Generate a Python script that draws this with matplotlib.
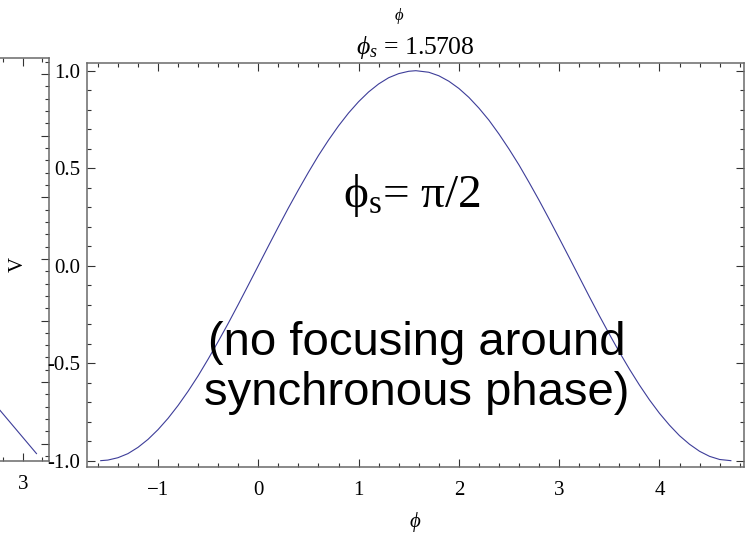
import numpy as np
import matplotlib
matplotlib.use("Agg")
import matplotlib.pyplot as plt
from matplotlib.ticker import MultipleLocator, FuncFormatter

plt.rcParams['font.family'] = ['Liberation Serif', 'DejaVu Serif']
plt.rcParams['mathtext.fontset'] = 'custom'
plt.rcParams['mathtext.rm'] = 'Liberation Serif'
plt.rcParams['mathtext.it'] = 'Liberation Serif:italic'

# V = sin(phi)
phi = [-1.571, -1.5, -1.4, -1.3, -1.2, -1.1, -1.0, -0.9, -0.8, -0.7, -0.6, -0.5,
       -0.4, -0.3, -0.2, -0.1, 0.0, 0.1, 0.2, 0.3, 0.4, 0.5, 0.6, 0.7, 0.8, 0.9,
       1.0, 1.1, 1.2, 1.3, 1.4, 1.5, 1.571, 1.7, 1.8, 1.9, 2.0, 2.1, 2.2, 2.3,
       2.4, 2.5, 2.6, 2.7, 2.8, 2.9, 3.0, 3.1, 3.2, 3.3, 3.4, 3.5, 3.6, 3.7,
       3.8, 3.9, 4.0, 4.1, 4.2, 4.3, 4.4, 4.5, 4.6, 4.712]
V = [-1.0, -0.997, -0.985, -0.964, -0.932, -0.891, -0.841, -0.783, -0.717,
     -0.644, -0.565, -0.479, -0.389, -0.296, -0.199, -0.100, 0.0, 0.100, 0.199,
     0.296, 0.389, 0.479, 0.565, 0.644, 0.717, 0.783, 0.841, 0.891, 0.932,
     0.964, 0.985, 0.997, 1.0, 0.992, 0.974, 0.946, 0.909, 0.863, 0.808, 0.746,
     0.675, 0.598, 0.516, 0.427, 0.335, 0.239, 0.141, 0.042, -0.058, -0.158,
     -0.256, -0.351, -0.443, -0.530, -0.612, -0.688, -0.757, -0.818, -0.872,
     -0.916, -0.952, -0.978, -0.994, -1.0]

# visible piece of the neighbouring panel on the left
phi_left = [2.76, 2.95, 3.14]
V_left = [-1.22, -1.40, -1.58]

title_txt = r'$\phi_s$ = 1.5708'
note1 = r'$\mathrm{\phi}_\mathrm{s}$= π/2'
note2 = '(no focusing around\nsynchronous phase)'

W, H = 752, 533
line_col = '#3d3d99'
frame_col = '#6a6a6a'

fig = plt.figure(figsize=(W / 100, H / 100), dpi=100)


def style(ax):
    for s in ax.spines.values():
        s.set_color(frame_col)
        s.set_linewidth(1.1)
    ax.tick_params(which='both', direction='in', top=True, right=True,
                   color='#333333', width=0.8, labelsize=15)
    ax.tick_params(which='major', length=5.8)
    ax.tick_params(which='minor', length=3.2)


# left (cut off) panel
axl = fig.add_axes([-594.7 / W, (H - 461) / H, 644 / W, 403 / H])
axl.plot(phi_left, V_left, color=line_col, lw=0.8)
axl.set_xlim(-3.27, 3.27)
axl.set_ylim(-1.64, 1.63)
axl.xaxis.set_major_locator(MultipleLocator(1))
axl.xaxis.set_minor_locator(MultipleLocator(0.2))
axl.yaxis.set_major_locator(MultipleLocator(0.5))
axl.yaxis.set_minor_locator(MultipleLocator(0.1))
axl.xaxis.set_major_formatter(FuncFormatter(lambda v, p: '3' if abs(v - 3) < 1e-6 else ''))
style(axl)
axl.tick_params(axis='x', pad=10)
axl.tick_params(axis='y', labelleft=False)

# main panel
ax = fig.add_axes([87.3 / W, (H - 466.7) / H, 656.7 / W, 404 / H])
ax.plot(phi, V, color=line_col, lw=0.8)
ax.set_xlim(-1.705, 4.843)
ax.set_ylim(-1.031, 1.041)
ax.xaxis.set_major_locator(MultipleLocator(1))
ax.xaxis.set_minor_locator(MultipleLocator(0.2))
ax.yaxis.set_major_locator(MultipleLocator(0.5))
ax.yaxis.set_minor_locator(MultipleLocator(0.1))
ax.yaxis.set_major_formatter(plt.FormatStrFormatter('%.1f'))
style(ax)
ax.tick_params(axis='x', pad=10)
ax.tick_params(axis='y', pad=5)

ax.set_xlabel(r'$\phi$', fontsize=15, va='center')
ax.xaxis.set_label_coords(0.5, (466.7 - 522) / 404)
ax.set_ylabel('V', fontsize=15, va='center')
ax.yaxis.set_label_coords((18 - 87.3) / 656.7, 0.5)
ax.set_title(title_txt, fontsize=18.5, pad=6)
fig.text(399 / W, 1 - 16 / H, r'$\phi$', fontsize=12, ha='center', va='center')

ax.text(412 / W, 1 - 207 / H, note1, transform=fig.transFigure, fontsize=34,
        ha='center', va='baseline')
ax.text(417 / W, 1 - 368 / H, note2, transform=fig.transFigure, fontsize=34,
        family='Liberation Sans', ha='center', va='center', linespacing=1.2)

fig.savefig('out.png', dpi=100)
